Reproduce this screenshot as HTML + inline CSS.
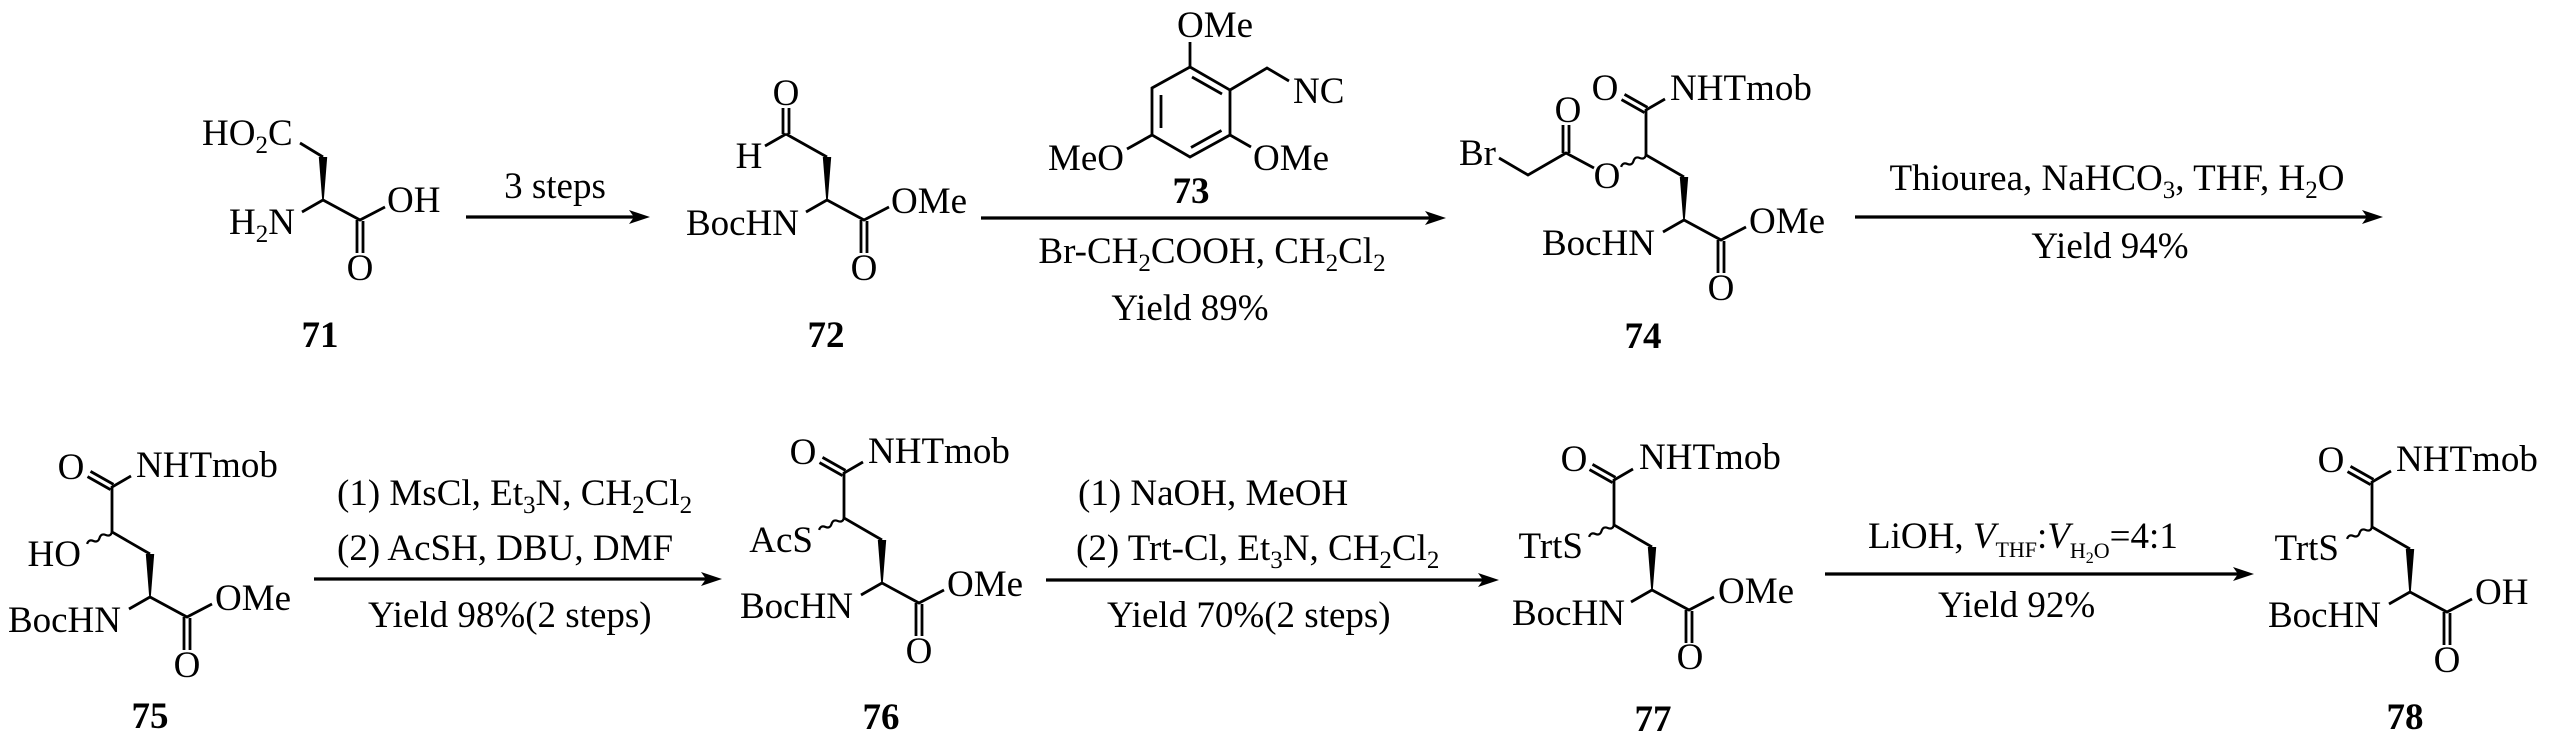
<!DOCTYPE html>
<html>
<head>
<meta charset="utf-8">
<style>
html,body{margin:0;padding:0;background:#fff;}
svg{display:block;}
</style>
</head>
<body>
<svg width="2567" height="740" viewBox="0 0 2567 740" xmlns="http://www.w3.org/2000/svg" xmlns:xlink="http://www.w3.org/1999/xlink" font-family="'Liberation Serif','Times New Roman',serif" font-size="37">
<rect x="0" y="0" width="2567" height="740" fill="#fff"/>
<defs>
<g id="low" stroke="#000" stroke-width="2.8" fill="none">
 <line x1="-21" y1="12" x2="0" y2="0"/>
 <polyline points="0,0 37,20 62,7"/>
 <line x1="34" y1="20" x2="34" y2="53"/>
 <line x1="40" y1="21" x2="40" y2="53"/>
 <polygon points="-0.8,0 0.8,0 4.2,-43 -4.2,-43" fill="#000" stroke="none"/>
</g>
<g id="up" stroke="#000" stroke-width="2.8" fill="none">
 <polyline points="0,-43 -38,-65 -38,-110 -19,-121"/>
 <line x1="-36.5" y1="-112.6" x2="-59.5" y2="-125.6"/>
 <line x1="-39.5" y1="-107.4" x2="-62.5" y2="-120.4"/>
 <path transform="translate(-38,-65) rotate(154.4)" d="M0,0 q3.45,-3.8 6.9,0 t6.9,0 t6.9,0 t6.9,0" stroke-width="2.2"/>
</g>
</defs>

<!-- ===== bonds ===== -->
<g stroke="#000" stroke-width="2.8" fill="none">
 <!-- 71 -->
 <line x1="300" y1="143" x2="323" y2="157"/>
 <!-- 72 -->
 <line x1="827" y1="157" x2="786" y2="134"/>
 <line x1="783" y1="134" x2="783" y2="108"/>
 <line x1="789" y1="134" x2="789" y2="108"/>
 <line x1="786" y1="134" x2="765" y2="146"/>
 <!-- 73 ring -->
 <polygon points="1190,67 1230,90 1230,135 1190,157 1152,135 1152,88"/>
 <line x1="1161" y1="95" x2="1161" y2="128"/>
 <line x1="1192" y1="77" x2="1222" y2="94"/>
 <line x1="1221.5" y1="130.5" x2="1191" y2="147.5"/>
 <line x1="1190" y1="67" x2="1190" y2="42"/>
 <polyline points="1230,90 1267,68 1289,81"/>
 <line x1="1230" y1="135" x2="1251" y2="147"/>
 <line x1="1152" y1="135" x2="1127" y2="149"/>
 <!-- 74 ester side -->
 <polyline points="1499,158 1528,175 1566,153 1594,168"/>
 <line x1="1563" y1="153" x2="1563" y2="125"/>
 <line x1="1569" y1="153" x2="1569" y2="125"/>
</g>

<use xlink:href="#low" href="#low" transform="translate(323,200)"/>
<use xlink:href="#low" href="#low" transform="translate(827,200)"/>
<use xlink:href="#low" href="#low" transform="translate(1684,220)"/>
<use xlink:href="#up" href="#up" transform="translate(1684,220)"/>
<use xlink:href="#low" href="#low" transform="translate(150,597)"/>
<use xlink:href="#up" href="#up" transform="translate(150,597)"/>
<use xlink:href="#low" href="#low" transform="translate(882,583)"/>
<use xlink:href="#up" href="#up" transform="translate(882,583)"/>
<use xlink:href="#low" href="#low" transform="translate(1652,590)"/>
<use xlink:href="#up" href="#up" transform="translate(1652,590)"/>
<use xlink:href="#low" href="#low" transform="translate(2410,592)"/>
<use xlink:href="#up" href="#up" transform="translate(2410,592)"/>

<!-- ===== arrows ===== -->
<g stroke="#000" stroke-width="3.2" fill="none">
 <line x1="466" y1="217" x2="636" y2="217"/>
 <line x1="981" y1="218" x2="1432" y2="218"/>
 <line x1="1855" y1="217" x2="2369" y2="217"/>
 <line x1="314" y1="579" x2="708" y2="579"/>
 <line x1="1046" y1="580" x2="1485" y2="580"/>
 <line x1="1825" y1="574" x2="2240" y2="574"/>
</g>
<g fill="#000">
 <polygon points="650,217 629,210 634,217 629,224"/>
 <polygon points="1446,218 1425,211 1430,218 1425,225"/>
 <polygon points="2383,217 2362,210 2367,217 2362,224"/>
 <polygon points="722,579 701,572 706,579 701,586"/>
 <polygon points="1499,580 1478,573 1483,580 1478,587"/>
 <polygon points="2254,574 2233,567 2238,574 2233,581"/>
</g>

<!-- ===== text ===== -->
<g fill="#000">
 <!-- 71 -->
 <text x="202" y="145">HO<tspan font-size="25" dy="8">2</tspan><tspan dy="-8">C</tspan></text>
 <text x="295" y="234" text-anchor="end">H<tspan font-size="25" dy="8">2</tspan><tspan dy="-8">N</tspan></text>
 <text x="387" y="212">OH</text>
 <text x="360" y="280" text-anchor="middle">O</text>
 <text x="320" y="347" text-anchor="middle" font-weight="bold">71</text>
 <text x="555" y="198" text-anchor="middle">3 steps</text>

 <!-- 72 -->
 <text x="786" y="105" text-anchor="middle">O</text>
 <text x="749" y="168" text-anchor="middle">H</text>
 <text x="799" y="235" text-anchor="end">BocHN</text>
 <text x="891" y="213">OMe</text>
 <text x="864" y="280" text-anchor="middle">O</text>
 <text x="826" y="347" text-anchor="middle" font-weight="bold">72</text>

 <!-- 73 -->
 <text x="1177" y="37">OMe</text>
 <text x="1293" y="103">NC</text>
 <text x="1253" y="170">OMe</text>
 <text x="1124" y="170" text-anchor="end">MeO</text>
 <text x="1191" y="203" text-anchor="middle" font-weight="bold">73</text>
 <text x="1212" y="263" text-anchor="middle">Br-CH<tspan font-size="25" dy="8">2</tspan><tspan dy="-8">COOH, CH</tspan><tspan font-size="25" dy="8">2</tspan><tspan dy="-8">Cl</tspan><tspan font-size="25" dy="8">2</tspan></text>
 <text x="1190" y="320" text-anchor="middle">Yield 89%</text>

 <!-- 74 -->
 <text x="1459" y="165">Br</text>
 <text x="1568" y="122" text-anchor="middle">O</text>
 <text x="1607" y="188" text-anchor="middle">O</text>
 <text x="1605" y="100" text-anchor="middle">O</text>
 <text x="1670" y="100">NHTmob</text>
 <text x="1655" y="255" text-anchor="end">BocHN</text>
 <text x="1749" y="233">OMe</text>
 <text x="1721" y="300" text-anchor="middle">O</text>
 <text x="1643" y="348" text-anchor="middle" font-weight="bold">74</text>

 <text x="2117" y="190" text-anchor="middle">Thiourea, NaHCO<tspan font-size="25" dy="8">3</tspan><tspan dy="-8">, THF, H</tspan><tspan font-size="25" dy="8">2</tspan><tspan dy="-8">O</tspan></text>
 <text x="2110" y="258" text-anchor="middle">Yield 94%</text>

 <!-- 75 -->
 <text x="71" y="479" text-anchor="middle">O</text>
 <text x="136" y="477">NHTmob</text>
 <text x="81" y="566" text-anchor="end">HO</text>
 <text x="121" y="632" text-anchor="end">BocHN</text>
 <text x="215" y="610">OMe</text>
 <text x="187" y="677" text-anchor="middle">O</text>
 <text x="150" y="728" text-anchor="middle" font-weight="bold">75</text>

 <text x="337" y="505">(1) MsCl, Et<tspan font-size="25" dy="8">3</tspan><tspan dy="-8">N, CH</tspan><tspan font-size="25" dy="8">2</tspan><tspan dy="-8">Cl</tspan><tspan font-size="25" dy="8">2</tspan></text>
 <text x="337" y="560">(2) AcSH, DBU, DMF</text>
 <text x="368" y="627">Yield 98%(2 steps)</text>

 <!-- 76 -->
 <text x="803" y="464" text-anchor="middle">O</text>
 <text x="868" y="463">NHTmob</text>
 <text x="813" y="552" text-anchor="end">AcS</text>
 <text x="853" y="618" text-anchor="end">BocHN</text>
 <text x="947" y="596">OMe</text>
 <text x="919" y="663" text-anchor="middle">O</text>
 <text x="881" y="729" text-anchor="middle" font-weight="bold">76</text>

 <text x="1078" y="505">(1) NaOH, MeOH</text>
 <text x="1076" y="560">(2) Trt-Cl, Et<tspan font-size="25" dy="8">3</tspan><tspan dy="-8">N, CH</tspan><tspan font-size="25" dy="8">2</tspan><tspan dy="-8">Cl</tspan><tspan font-size="25" dy="8">2</tspan></text>
 <text x="1107" y="627">Yield 70%(2 steps)</text>

 <!-- 77 -->
 <text x="1574" y="471" text-anchor="middle">O</text>
 <text x="1639" y="469">NHTmob</text>
 <text x="1583" y="558" text-anchor="end">TrtS</text>
 <text x="1625" y="625" text-anchor="end">BocHN</text>
 <text x="1718" y="603">OMe</text>
 <text x="1690" y="669" text-anchor="middle">O</text>
 <text x="1653" y="731" text-anchor="middle" font-weight="bold">77</text>

 <text x="1868" y="548">LiOH, <tspan font-style="italic">V</tspan><tspan font-size="22" dy="9">THF</tspan><tspan dy="-9">:</tspan><tspan font-style="italic">V</tspan><tspan font-size="22" dy="10">H</tspan><tspan font-size="16" dy="5">2</tspan><tspan font-size="22" dy="-5">O</tspan><tspan dy="-10">=4:1</tspan></text>
 <text x="1938" y="617">Yield 92%</text>

 <!-- 78 -->
 <text x="2331" y="472" text-anchor="middle">O</text>
 <text x="2396" y="471">NHTmob</text>
 <text x="2339" y="560" text-anchor="end">TrtS</text>
 <text x="2381" y="627" text-anchor="end">BocHN</text>
 <text x="2475" y="604">OH</text>
 <text x="2447" y="672" text-anchor="middle">O</text>
 <text x="2405" y="729" text-anchor="middle" font-weight="bold">78</text>
</g>
</svg>
</body>
</html>
